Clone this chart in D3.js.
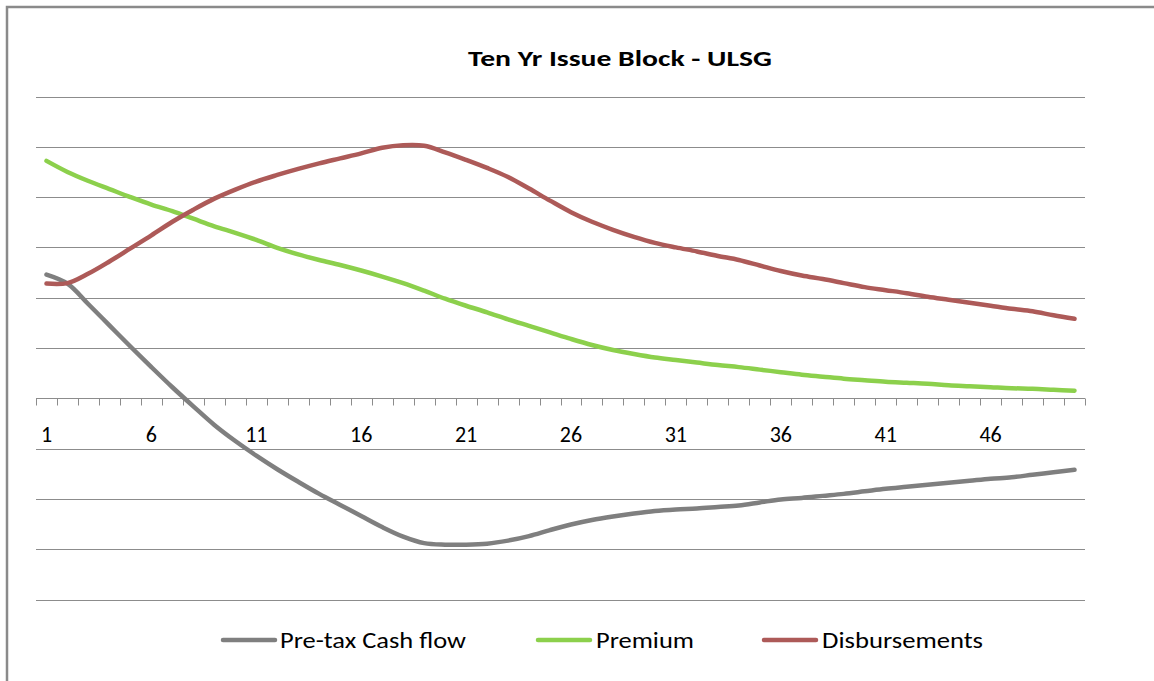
<!DOCTYPE html>
<html>
<head>
<meta charset="utf-8">
<script src="https://cdn.jsdelivr.net/npm/d3@7"></script>
<style>
  html, body { margin: 0; padding: 0; background: #fff; }
  svg { display: block; }
  text { font-family: Carlito, "Liberation Sans Narrow", "Liberation Sans", "Open Sans", sans-serif; fill: #000; }
</style>
</head>
<body>
<svg id="chart" width="1154" height="681"></svg>
<script>
// Policy years 1..50
const years = d3.range(1, 51);

// Tick labels shown every fifth year
const tickLabels = [1, 6, 11, 16, 21, 26, 31, 36, 41, 46];

// Gridline values (axis units)
const gridValues = [-4, -3, -2, -1, 0, 1, 2, 3, 4, 5, 6];

const preTaxCashFlow = [
  2.46, 2.28, 1.87, 1.45, 1.03, 0.62, 0.22, -0.16, -0.53, -0.85,
  -1.14, -1.41, -1.66, -1.90, -2.12, -2.34, -2.56, -2.75, -2.88, -2.91,
  -2.91, -2.89, -2.83, -2.74, -2.62, -2.51, -2.42, -2.35, -2.29, -2.24,
  -2.21, -2.19, -2.16, -2.13, -2.07, -2.01, -1.98, -1.94, -1.90, -1.85,
  -1.80, -1.76, -1.72, -1.68, -1.64, -1.60, -1.57, -1.52, -1.47, -1.42
];

const premium = [
  4.72, 4.50, 4.32, 4.16, 4.00, 3.85, 3.72, 3.57, 3.42, 3.29,
  3.15, 2.99, 2.86, 2.75, 2.65, 2.54, 2.42, 2.29, 2.14, 1.98,
  1.84, 1.71, 1.57, 1.44, 1.31, 1.18, 1.06, 0.96, 0.88, 0.81,
  0.76, 0.71, 0.66, 0.62, 0.57, 0.52, 0.47, 0.43, 0.39, 0.36,
  0.33, 0.31, 0.29, 0.26, 0.24, 0.22, 0.20, 0.19, 0.17, 0.15
];

const disbursements = [
  2.28, 2.29, 2.48, 2.72, 2.98, 3.24, 3.51, 3.75, 3.97, 4.15,
  4.31, 4.44, 4.56, 4.67, 4.77, 4.87, 4.98, 5.03, 5.02, 4.89,
  4.74, 4.58, 4.40, 4.17, 3.93, 3.70, 3.51, 3.35, 3.21, 3.09,
  3.00, 2.92, 2.83, 2.75, 2.64, 2.53, 2.44, 2.37, 2.29, 2.21,
  2.15, 2.09, 2.02, 1.96, 1.90, 1.84, 1.78, 1.73, 1.65, 1.58
];

const seriesNames = ["Pre-tax Cash flow", "Premium", "Disbursements"];
const seriesColors = ["#7f7f7f", "#8cd04c", "#ad5a58"];
const seriesValues = [preTaxCashFlow, premium, disbursements];

const svg = d3.select("#chart");

// Outer frame (top and left edges)
svg.append("path")
  .attr("d", "M7,681 V7 H1154")
  .attr("fill", "none")
  .attr("stroke", "#8a8a8a")
  .attr("stroke-width", 2.5);

const x = d3.scaleBand().domain(years).range([36, 1085]).paddingInner(0).paddingOuter(0);
const y = d3.scaleLinear().domain([-4, 6]).range([599.5, 96.5]);
const cx = d => x(d) + x.bandwidth() / 2;

// Title
svg.append("text")
  .attr("x", 620)
  .attr("y", 66)
  .attr("text-anchor", "middle")
  .attr("font-size", 22)
  .attr("font-weight", "bold")
  .attr("textLength", 304)
  .attr("lengthAdjust", "spacingAndGlyphs")
  .text("Ten Yr Issue Block - ULSG");

// Horizontal gridlines
svg.append("g")
  .selectAll("line")
  .data(gridValues.filter(v => v !== 0))
  .join("line")
  .attr("x1", 36).attr("x2", 1085)
  .attr("y1", d => Math.round(y(d)) + 0.5)
  .attr("y2", d => Math.round(y(d)) + 0.5)
  .attr("stroke", "#8c8c8c")
  .attr("stroke-width", 1);

// Category axis at zero with boundary ticks
const axisY = Math.round(y(0)) + 0.5;
const axisG = svg.append("g");
axisG.append("line")
  .attr("x1", 36).attr("x2", 1085)
  .attr("y1", axisY).attr("y2", axisY)
  .attr("stroke", "#8c8c8c");
axisG.selectAll("line.tick")
  .data(years.concat([years.length + 1]))
  .join("line")
  .attr("class", "tick")
  .attr("x1", d => Math.round(d <= years.length ? x(d) : 1085) + 0.5)
  .attr("x2", d => Math.round(d <= years.length ? x(d) : 1085) + 0.5)
  .attr("y1", axisY).attr("y2", axisY + 7)
  .attr("stroke", "#8c8c8c");
axisG.selectAll("text")
  .data(tickLabels)
  .join("text")
  .attr("x", d => cx(d))
  .attr("y", 442)
  .attr("text-anchor", "middle")
  .attr("font-size", 22)
  .text(d => d);

// Series lines
const line = d3.line()
  .x((d, i) => cx(years[i]))
  .y(d => y(d))
  .curve(d3.curveCatmullRom.alpha(0.5));

seriesValues.forEach((vals, k) => {
  svg.append("path")
    .datum(vals)
    .attr("fill", "none")
    .attr("stroke", seriesColors[k])
    .attr("stroke-width", 4.5)
    .attr("stroke-linecap", "round")
    .attr("stroke-linejoin", "round")
    .attr("d", line);
});

// Legend
const legendItems = [
  { x1: 223, x2: 275, tx: 280, tw: 186 },
  { x1: 538, x2: 590, tx: 596, tw: 98 },
  { x1: 764, x2: 816, tx: 822, tw: 161 }
];
const legend = svg.append("g");
legendItems.forEach((it, k) => {
  legend.append("line")
    .attr("x1", it.x1).attr("x2", it.x2)
    .attr("y1", 640).attr("y2", 640)
    .attr("stroke", seriesColors[k])
    .attr("stroke-width", 4.5)
    .attr("stroke-linecap", "round");
  legend.append("text")
    .attr("x", it.tx)
    .attr("y", 648)
    .attr("font-size", 22)
    .attr("textLength", it.tw)
    .attr("lengthAdjust", "spacingAndGlyphs")
    .text(seriesNames[k]);
});
</script>
</body>
</html>
